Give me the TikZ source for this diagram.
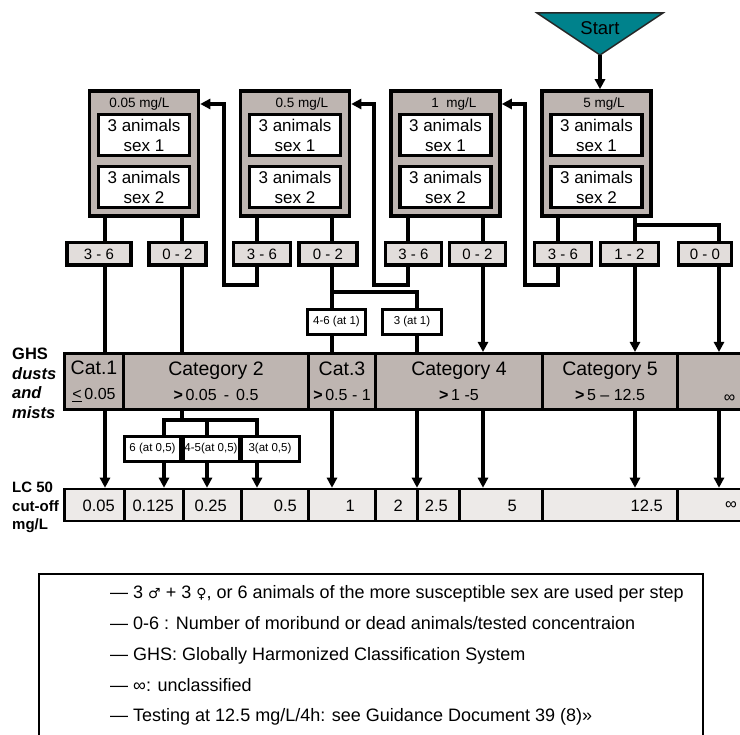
\documentclass[tikz,border=0pt]{standalone}
\usepackage{fontspec}
\setmainfont{Liberation Sans}
\newfontfamily\symfont{DejaVu Sans}
\usetikzlibrary{arrows.meta,positioning}
\definecolor{boxgray}{RGB}{190,181,177}
\definecolor{resgray}{RGB}{226,221,219}
\definecolor{lcgray}{RGB}{237,234,232}
\definecolor{startteal}{RGB}{0,130,140}
\newcommand{\catsub}{\fontsize{16}{25}\selectfont}

\begin{document}
\begin{tikzpicture}[x=1pt, y=-1pt,
  ln/.style={line width=3.5pt},
  arr/.style={ln, -{Triangle[length=10pt,width=10pt]}},
  conc/.style={draw, line width=3.5pt, fill=boxgray, minimum width=109, minimum height=125, inner sep=0pt},
  ctitle/.style={font=\fontsize{13.5}{15}\selectfont, inner sep=0pt},
  sexbox/.style={draw, line width=3.5pt, fill=white, minimum width=91, minimum height=41, inner sep=0pt, align=center, font=\fontsize{17}{20}\selectfont},
  res/.style={draw, line width=3.5pt, fill=resgray, minimum height=22.5, inner sep=0pt, font=\fontsize{15}{16}\selectfont},
  note/.style={draw, line width=3pt, fill=white, minimum height=25, inner sep=0pt, font=\fontsize{11.5}{13}\selectfont},
  cat/.style={draw, line width=3pt, fill=boxgray, minimum height=56, inner sep=0pt, anchor=west, align=center, font=\fontsize{19.5}{25}\selectfont},
  lc/.style={draw, line width=2.5pt, fill=lcgray, minimum height=32, inner sep=0pt, anchor=west},
  lcv/.style={font=\fontsize{16.5}{18}\selectfont, inner sep=0pt, anchor=east},
  side/.style={font=\bfseries\fontsize{16.5}{19.5}\selectfont, align=left, inner sep=0pt, anchor=north west}
]
\useasboundingbox (0,0) rectangle (740,735);

\filldraw[fill=startteal, draw=black!85, line width=1.5pt] (537,13) -- (663,13) -- (600,55) -- cycle;
\node[font=\fontsize{18.5}{20}\selectfont, inner sep=0pt] (start) at (600,28) {Start};
\coordinate (apex) at (600,55);

\node[conc] (c1) at (144,153.5) {};
\node[conc] (c2) at (295,153.5) {};
\node[conc] (c3) at (445.5,153.5) {};
\node[conc] (c4) at (596.5,153.5) {};
\node[ctitle] (t1) at (139.5,104) {0.05 mg/L};
\node[ctitle] (t2) at (302,104) {0.5 mg/L};
\node[ctitle] (t3) at (454,104) {1 \ mg/L};
\node[ctitle] (t4) at (604,104) {5 mg/L};
\foreach \i/\cx in {1/144, 2/295, 3/445.5, 4/596.5} {
  \node[sexbox] (p\i) at (\cx,135) {3 animals\\sex 1};
  \node[sexbox] (q\i) at (\cx,187) {3 animals\\sex 2};
}

\node[res, minimum width=64] (r1a) at (99,254) {3 - 6};
\node[res, minimum width=57] (r1b) at (177.5,254) {0 - 2};
\node[res, minimum width=57] (r2a) at (262,254) {3 - 6};
\node[res, minimum width=58] (r2b) at (328,254) {0 - 2};
\node[res, minimum width=56] (r3a) at (413.5,254) {3 - 6};
\node[res, minimum width=56] (r3b) at (477.5,254) {0 - 2};
\node[res, minimum width=57] (r4a) at (563,254) {3 - 6};
\node[res, minimum width=58] (r4b) at (629.5,254) {1 - 2};
\node[res, minimum width=53] (r4c) at (705,254) {0 - 0};

\node[note, minimum width=58] (n1) at (336.5,322) {4-6 (at 1)};
\node[note, minimum width=59] (n2) at (412,322) {3 (at 1)};

\node[cat, minimum width=59] (g1) at (63,381.5) {Cat.1\\{\catsub\underline{<}\,0.05}};
\node[cat, minimum width=185] (g2) at (122,381.5) {Category 2\\{\catsub\textbf{>}\,0.05 \,-\, 0.5}};
\node[cat, minimum width=67] (g3) at (307,381.5) {Cat.3\\{\catsub\textbf{>}\,0.5 - 1}};
\node[cat, minimum width=167] (g4) at (374,381.5) {Category 4\\{\catsub\textbf{>}\,1 -5}};
\node[cat, minimum width=135] (g5) at (541,381.5) {Category 5\\{\catsub\textbf{>}\,5 -- 12.5}};
\node[cat, minimum width=104] (g6) at (676,381.5) {\strut\\{\catsub ∞}};

\node[note, minimum width=56] (h1) at (152.5,449) {6 (at 0,5)};
\node[note, minimum width=56] (h2) at (211,449) {4-5(at 0,5)};
\node[note, minimum width=58] (h3) at (270,449) {3(at 0,5)};

\node[lc, minimum width=60] (lc1) at (63,505) {};
\node[lc, minimum width=59] (lc2) at (123,505) {};
\node[lc, minimum width=58] (lc3) at (182,505) {};
\node[lc, minimum width=67] (lc4) at (240,505) {};
\node[lc, minimum width=67] (lc5) at (307,505) {};
\node[lc, minimum width=42] (lc6) at (374,505) {};
\node[lc, minimum width=42] (lc7) at (416,505) {};
\node[lc, minimum width=83] (lc8) at (458,505) {};
\node[lc, minimum width=135] (lc9) at (541,505) {};
\node[lc, minimum width=122] (lc10) at (676,505) {};
\node[lcv] (w1) at (115,506) {0.05};
\node[lcv] (w2) at (174,506) {0.125};
\node[lcv] (w3) at (227,506) {0.25};
\node[lcv] (w4) at (297,506) {0.5};
\node[lcv] (w5) at (355,506) {1};
\node[lcv] (w6) at (403,506) {2};
\node[lcv] (w7) at (448,506) {2.5};
\node[lcv] (w8) at (517,506) {5};
\node[lcv] (w9) at (663,506) {12.5};
\node[lcv] (w10) at (737,506) {∞};

\node[side] (ghs) at (12,348) {GHS\\\textit{dusts}\\\textit{and}\\\textit{mists}};
\node[side, font=\bfseries\fontsize{15}{18.5}\selectfont] (lcl) at (12,482) {LC 50\\cut-off\\mg/L};

\coordinate (x1) at (105,0);
\coordinate (x2) at (182,0);
\coordinate (x3) at (257,0);
\coordinate (x4) at (332,0);
\coordinate (x5) at (408,0);
\coordinate (x6) at (483,0);
\coordinate (x7) at (558,0);
\coordinate (x8) at (635,0);
\coordinate (x9) at (719,0);
\coordinate (x10) at (417,0);
\coordinate (x11) at (164,0);
\coordinate (x12) at (207,0);
\coordinate (k1) at (224,285);
\coordinate (k2) at (374,285);
\coordinate (k3) at (525,285);
\coordinate (j1) at (332,292);
\coordinate (j2) at (417,292);
\coordinate (j3) at (182,420);
\coordinate (j4) at (164,420);
\coordinate (j5) at (257,420);
\coordinate (j6) at (207,420);
\coordinate (j7) at (635,225);
\coordinate (j8) at (719,225);

\draw[arr] (apex) -- (c4.north -| apex);

\draw[ln] (c1.south -| x1) -- (r1a.north -| x1);
\draw[ln] (c1.south -| x2) -- (r1b.north -| x2);
\draw[ln] (c2.south -| x3) -- (r2a.north -| x3);
\draw[ln] (c2.south -| x4) -- (r2b.north -| x4);
\draw[ln] (c3.south -| x5) -- (r3a.north -| x5);
\draw[ln] (c3.south -| x6) -- (r3b.north -| x6);
\draw[ln] (c4.south -| x7) -- (r4a.north -| x7);
\draw[ln] (c4.south -| x8) -- (r4b.north -| x8);
\draw[ln] (j7) -| (r4c.north -| j8);

\draw[arr] (r2a.south -| x3) |- (k1) |- (t1 -| c1.east);
\draw[arr] (r3a.south -| x5) |- (k2) |- (t2 -| c2.east);
\draw[arr] (r4a.south -| x7) |- (k3) |- (t3 -| c3.east);

\draw[ln] (r2b.south -| x4) -- (n1.north -| x4);
\draw[ln] (j1) -| (n2.north -| j2);

\draw[ln] (r1a.south -| x1) -- (g1.north -| x1);
\draw[ln] (r1b.south -| x2) -- (g2.north -| x2);
\draw[ln] (n1.south -| x4) -- (g3.north -| x4);
\draw[ln] (n2.south -| x10) -- (g4.north -| x10);
\draw[arr] (r3b.south -| x6) -- (g4.north -| x6);
\draw[arr] (r4b.south -| x8) -- (g5.north -| x8);
\draw[arr] (r4c.south -| x9) -- (g6.north -| x9);

\draw[ln] (g2.south -| j3) -- (j3);
\draw[ln] (h1.north -| j4) -- (j4) -- (j5) -- (h3.north -| j5);
\draw[ln] (j6) -- (h2.north -| j6);

\draw[arr] (g1.south -| x1) -- (lc1.north -| x1);
\draw[arr] (h1.south -| x11) -- (lc2.north -| x11);
\draw[arr] (h2.south -| x12) -- (lc3.north -| x12);
\draw[arr] (h3.south -| x3) -- (lc4.north -| x3);
\draw[arr] (g3.south -| x4) -- (lc5.north -| x4);
\draw[arr] (g4.south -| x10) -- (lc7.north -| x10);
\draw[arr] (g4.south -| x6) -- (lc8.north -| x6);
\draw[arr] (g5.south -| x8) -- (lc9.north -| x8);
\draw[arr] (g6.south -| x9) -- (lc10.north -| x9);

\node[draw, line width=2pt, anchor=north west, minimum width=664, minimum height=200] (legbox) at (38,573) {};
\node[anchor=north west, align=left, inner sep=0pt, font=\fontsize{18}{30.8}\selectfont] (legtext) at (110,585.5)
  {— 3 {\symfont\fontsize{14}{30.8}\selectfont ♂} + 3 {\symfont\fontsize{14}{30.8}\selectfont ♀}, or 6 animals of the more susceptible sex are used per step\\
   — 0-6 : Number of moribund or dead animals/tested concentraion\\
   — GHS: Globally Harmonized Classification System\\
   — ∞: unclassified\\
   — Testing at 12.5 mg/L/4h: see Guidance Document 39 (8)»};
\end{tikzpicture}
\end{document}
